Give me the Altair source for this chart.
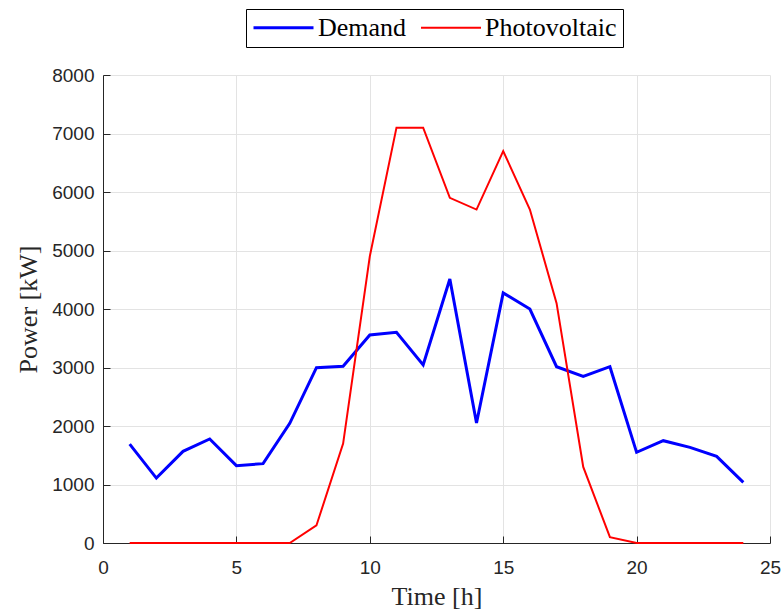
import altair as alt
import pandas as pd

hours = list(range(1, 25))
demand = [1690, 1110, 1567, 1778, 1322, 1356, 2046, 2997, 3020, 3556, 3601, 3043,
          4513, 2051, 4274, 4000, 3014, 2849, 3014, 1550, 1749, 1635, 1481, 1037]
pv = [0, 0, 0, 0, 0, 0, 0, 300, 1700, 4900, 7100, 7100,
      5900, 5700, 6700, 5700, 4100, 1300, 100, 0, 0, 0, 0, 0]
series = ["Demand", "Photovoltaic"]
x_ticks = [0, 5, 10, 15, 20, 25]
y_ticks = [0, 1000, 2000, 3000, 4000, 5000, 6000, 7000, 8000]

df = pd.concat([
    pd.DataFrame({"Time": hours, "Power": demand, "Series": series[0]}),
    pd.DataFrame({"Time": hours, "Power": pv, "Series": series[1]}),
])

AX = "#262626"
GRID = "#e3e3e3"
SERIF = "Liberation Serif"
SANS = "Liberation Sans"
W, H = 667, 468

xscale = alt.Scale(domain=[0, 25], nice=False, zero=False)
yscale = alt.Scale(domain=[0, 8000], nice=False)

legend_cfg = dict(title=None, orient="none", legendX=143, legendY=-66,
                  direction="horizontal", strokeColor="black",
                  fillColor="white", padding=6, clipHeight=25,
                  symbolType="stroke", symbolSize=3600,
                  labelFont=SERIF, labelFontSize=26, labelColor="black",
                  labelOffset=3, columnPadding=13, labelLimit=300)

lines = alt.Chart(df).mark_line().encode(
    x=alt.X("Time:Q", scale=xscale,
            axis=alt.Axis(values=x_ticks, title="Time [h]", grid=True, gridColor=GRID,
                          ticks=False, domainColor=AX, labelColor=AX, labelFlush=False,
                          labelFont=SANS, labelFontSize=19, labelPadding=15,
                          titleFont=SERIF, titleFontSize=26, titleFontWeight="normal",
                          titleColor=AX, titlePadding=6)),
    y=alt.Y("Power:Q", scale=yscale,
            axis=alt.Axis(values=y_ticks, title="Power [kW]", grid=True, gridColor=GRID,
                          ticks=False, domainColor=AX, labelColor=AX, format="d",
                          labelFont=SANS, labelFontSize=19, labelPadding=9,
                          titleFont=SERIF, titleFontSize=26, titleFontWeight="normal",
                          titleColor=AX, titlePadding=10)),
    color=alt.Color("Series:N", scale=alt.Scale(domain=series, range=["#0000ff", "#ff0000"]),
                    legend=alt.Legend(**legend_cfg)),
    strokeWidth=alt.StrokeWidth("Series:N", scale=alt.Scale(domain=series, range=[3, 2]),
                                legend=alt.Legend(**legend_cfg)),
)

# inward tick marks: axes on the opposite sides, pulled across the plot by a negative offset
tick_layer = alt.Chart(df).mark_point(opacity=0).encode(
    x=alt.X("Time:Q", scale=xscale,
            axis=alt.Axis(values=x_ticks, orient="top", offset=-H, title=None, labels=False,
                          domain=False, grid=False, ticks=True, tickSize=7, tickWidth=1,
                          tickColor=AX)),
    y=alt.Y("Power:Q", scale=yscale,
            axis=alt.Axis(values=y_ticks, orient="right", offset=-W, title=None, labels=False,
                          domain=False, grid=False, ticks=True, tickSize=7, tickWidth=1,
                          tickColor=AX)),
)

chart = alt.layer(lines, tick_layer).resolve_axis(x="independent", y="independent").properties(
    width=W, height=H,
    autosize=alt.AutoSizeParams(type="none"),
    padding={"left": 103, "top": 75, "right": 12, "bottom": 66},
    background="white",
).configure_view(stroke=None)

chart.save("out.html", embed_options={"renderer": "svg", "actions": False})
